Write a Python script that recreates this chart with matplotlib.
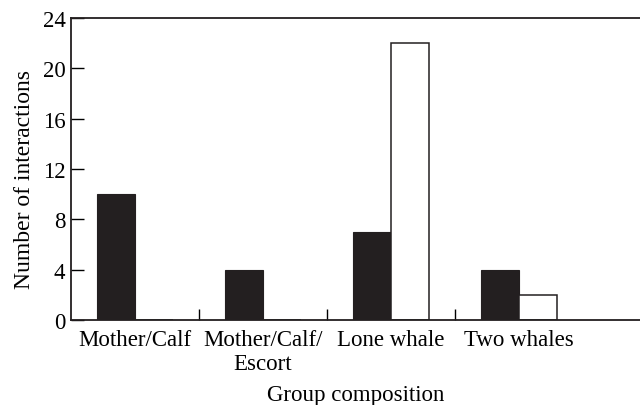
import numpy as np
import matplotlib
matplotlib.use("Agg")
import matplotlib.pyplot as plt

groups = ["Mother/Calf", "Mother/Calf/\nEscort", "Lone whale", "Two whales"]
black_vals = [10, 4, 7, 4]
white_vals = [0, 0, 22, 2]
yticks = [0, 4, 8, 12, 16, 20, 24]

plt.rcParams["font.family"] = ["Liberation Serif", "DejaVu Serif"]

fig = plt.figure(figsize=(6.4, 4.06), dpi=100)
ax = fig.add_axes([71 / 640, 1 - 321 / 406, 1 - 71 / 640, (321 - 19) / 406])

x = np.arange(len(groups))
w = 0.297
ax.bar(x - w / 2, black_vals, width=w, color="#231f20", edgecolor="#231f20", linewidth=0.8)
ax.bar(x + w / 2, white_vals, width=w, color="white", edgecolor="#231f20", linewidth=1.1)

ax.set_xlim(-0.5, (640 - 71) / 128 - 0.5)
ax.set_ylim(0, 24)
ax.set_yticks(yticks)

# boundary ticks between groups, labels at the group centres
ax.set_xticks([0.5, 1.5, 2.5])
ax.set_xticklabels([])
ax.set_xticks(x, minor=True)
ax.set_xticklabels(groups, minor=True, linespacing=1.2)
ax.tick_params(axis="x", which="major", direction="in", length=8, width=1)
ax.tick_params(axis="x", which="minor", length=0, pad=6.5, labelsize=16.5)
ax.tick_params(axis="y", direction="in", length=9, width=1, labelsize=16.5, pad=4)

for s in ["left", "bottom", "top"]:
    ax.spines[s].set_linewidth(1.3)
    ax.spines[s].set_color("#231f20")
ax.spines["right"].set_visible(False)

ax.set_ylabel("Number of interactions", fontsize=17)
ax.yaxis.set_label_coords(-0.063, 0.47)
ax.set_xlabel("Group composition", fontsize=16.5, labelpad=7)

fig.savefig("out.png", dpi=100)
